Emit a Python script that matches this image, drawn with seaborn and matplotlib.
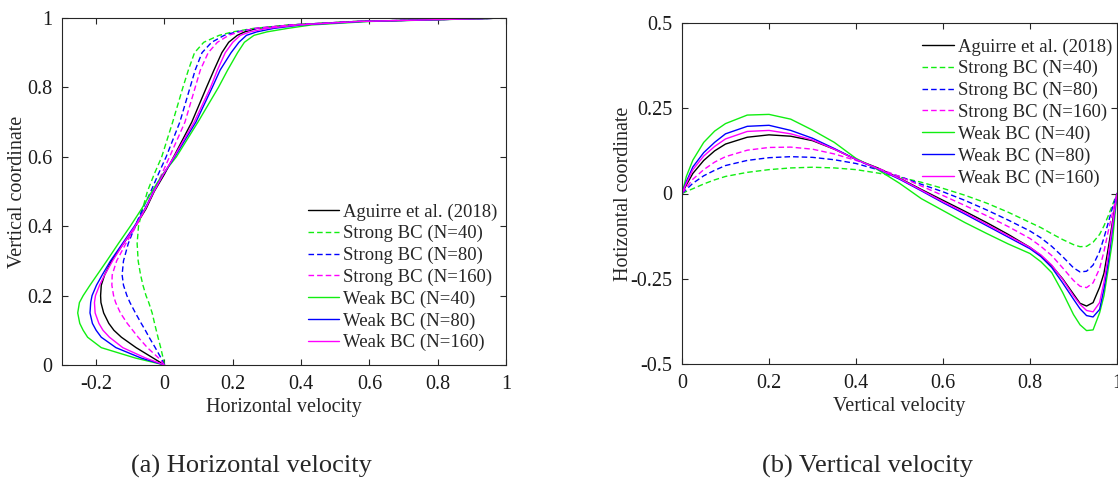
import numpy as np
import pandas as pd
import matplotlib
matplotlib.use("Agg")
import matplotlib.pyplot as plt
import seaborn as sns

# ---------------- data: panel (a) -----------------
# vertical coordinate (shared sample positions)
v_coord = [0, 0.02, 0.05, 0.08, 0.1, 0.12, 0.15, 0.18, 0.2, 0.23, 0.26, 0.3, 0.35,
           0.4, 0.45, 0.5, 0.55, 0.6, 0.7, 0.8, 0.85, 0.9, 0.93, 0.95, 0.96, 0.97,
           0.98, 0.99, 1.0]
u_aguirre = [0, -0.033, -0.083, -0.126, -0.148, -0.163, -0.178, -0.186, -0.187, -0.185,
             -0.175, -0.155, -0.12, -0.085, -0.054, -0.03, 0.0, 0.027, 0.08, 0.123,
             0.145, 0.168, 0.188, 0.213, 0.235, 0.27, 0.37, 0.56, 1.0]
u_strong40 = [0, -0.004, -0.011, -0.019, -0.024, -0.029, -0.036, -0.046, -0.054, -0.063,
              -0.07, -0.077, -0.08, -0.076, -0.064, -0.05, -0.03, -0.008, 0.024, 0.054,
              0.07, 0.088, 0.115, 0.16, 0.2, 0.26, 0.37, 0.56, 1.0]
u_strong80 = [0, -0.01, -0.027, -0.045, -0.056, -0.068, -0.085, -0.101, -0.11, -0.12,
              -0.124, -0.12, -0.106, -0.086, -0.064, -0.04, -0.018, 0.005, 0.045, 0.075,
              0.09, 0.11, 0.138, 0.175, 0.21, 0.27, 0.37, 0.56, 1.0]
u_strong160 = [0, -0.017, -0.05, -0.077, -0.093, -0.109, -0.129, -0.143, -0.149, -0.154,
               -0.153, -0.14, -0.113, -0.083, -0.057, -0.033, -0.008, 0.015, 0.06, 0.09,
               0.105, 0.128, 0.155, 0.188, 0.22, 0.265, 0.37, 0.56, 1.0]
u_weak40 = [0, -0.085, -0.185, -0.225, -0.238, -0.248, -0.254, -0.249, -0.238, -0.218,
            -0.197, -0.169, -0.135, -0.1, -0.067, -0.037, -0.005, 0.035, 0.098, 0.158,
            0.185, 0.214, 0.234, 0.262, 0.3, 0.36, 0.43, 0.6, 1.0]
u_weak80 = [0, -0.068, -0.142, -0.185, -0.2, -0.211, -0.218, -0.216, -0.212, -0.199,
            -0.182, -0.158, -0.123, -0.088, -0.057, -0.032, -0.003, 0.03, 0.092, 0.14,
            0.163, 0.195, 0.218, 0.24, 0.27, 0.32, 0.4, 0.58, 1.0]
u_weak160 = [0, -0.055, -0.122, -0.161, -0.18, -0.192, -0.203, -0.205, -0.202, -0.19,
             -0.175, -0.152, -0.12, -0.086, -0.056, -0.031, -0.003, 0.028, 0.087, 0.135,
             0.155, 0.178, 0.2, 0.222, 0.25, 0.3, 0.39, 0.57, 1.0]

# ---------------- data: panel (b) -----------------
x_coord = [0, 0.01, 0.025, 0.05, 0.075, 0.1, 0.15, 0.2, 0.25, 0.3, 0.35, 0.4, 0.45, 0.5,
           0.55, 0.6, 0.65, 0.7, 0.75, 0.8, 0.825, 0.85, 0.875, 0.9, 0.915, 0.93, 0.945,
           0.96, 0.97, 0.98, 0.99, 1.0]
w_aguirre = [0, 0.025, 0.059, 0.097, 0.125, 0.145, 0.165, 0.172, 0.168, 0.155, 0.13, 0.1,
             0.075, 0.045, 0.012, -0.02, -0.052, -0.085, -0.12, -0.158, -0.182, -0.212,
             -0.25, -0.295, -0.322, -0.33, -0.32, -0.275, -0.234, -0.16, -0.08, 0.0]
w_strong40 = [0, 0.006, 0.014, 0.028, 0.04, 0.05, 0.062, 0.07, 0.075, 0.077, 0.075, 0.07,
              0.06, 0.048, 0.033, 0.015, -0.005, -0.028, -0.055, -0.085, -0.1, -0.118,
              -0.135, -0.15, -0.156, -0.155, -0.143, -0.12, -0.095, -0.065, -0.032, 0.0]
w_strong80 = [0, 0.012, 0.03, 0.052, 0.068, 0.082, 0.097, 0.105, 0.108, 0.106, 0.099, 0.088,
              0.07, 0.05, 0.027, 0.005, -0.02, -0.048, -0.078, -0.11, -0.13, -0.155,
              -0.185, -0.218, -0.23, -0.228, -0.21, -0.17, -0.13, -0.085, -0.04, 0.0]
w_strong160 = [0, 0.017, 0.042, 0.07, 0.092, 0.108, 0.127, 0.135, 0.136, 0.13, 0.116, 0.097,
               0.074, 0.05, 0.022, -0.006, -0.035, -0.065, -0.097, -0.132, -0.155, -0.182,
               -0.218, -0.255, -0.272, -0.276, -0.262, -0.22, -0.17, -0.11, -0.055, 0.0]
w_weak40 = [0, 0.05, 0.098, 0.15, 0.183, 0.205, 0.23, 0.232, 0.218, 0.186, 0.15, 0.103,
            0.07, 0.03, -0.015, -0.05, -0.085, -0.117, -0.148, -0.176, -0.2, -0.232, -0.29,
            -0.355, -0.385, -0.402, -0.4, -0.35, -0.3, -0.22, -0.135, 0.0]
w_weak80 = [0, 0.035, 0.078, 0.12, 0.15, 0.175, 0.197, 0.2, 0.185, 0.162, 0.132, 0.1, 0.072,
            0.042, 0.008, -0.027, -0.06, -0.094, -0.128, -0.162, -0.185, -0.217, -0.262,
            -0.31, -0.338, -0.358, -0.362, -0.34, -0.28, -0.2, -0.1, 0.0]
w_weak160 = [0, 0.03, 0.07, 0.11, 0.138, 0.16, 0.182, 0.185, 0.175, 0.157, 0.13, 0.1, 0.073,
             0.044, 0.01, -0.024, -0.056, -0.09, -0.124, -0.158, -0.18, -0.21, -0.252, -0.3,
             -0.325, -0.343, -0.347, -0.32, -0.26, -0.18, -0.09, 0.0]

series_names = ["Aguirre et al. (2018)", "Strong BC (N=40)", "Strong BC (N=80)",
                "Strong BC (N=160)", "Weak BC (N=40)", "Weak BC (N=80)", "Weak BC (N=160)"]
series_colors = ["#000000", "#11ee11", "#0000ff", "#ff00ff", "#11ee11", "#0000ff", "#ff00ff"]
series_dashed = [False, True, True, True, False, False, False]

xticks_a = [-0.2, 0, 0.2, 0.4, 0.6, 0.8, 1]
xticklabels_a = ["-0.2", "0", "0.2", "0.4", "0.6", "0.8", "1"]
yticks_a = [0, 0.2, 0.4, 0.6, 0.8, 1]
yticklabels_a = ["0", "0.2", "0.4", "0.6", "0.8", "1"]
xticks_b = [0, 0.2, 0.4, 0.6, 0.8, 1]
xticklabels_b = ["0", "0.2", "0.4", "0.6", "0.8", "1"]
yticks_b = [-0.5, -0.25, 0, 0.25, 0.5]
yticklabels_b = ["-0.5", "-0.25", "0", "0.25", "0.5"]

# ---------------- build frames -----------------
a_vals = [u_aguirre, u_strong40, u_strong80, u_strong160, u_weak40, u_weak80, u_weak160]
b_vals = [w_aguirre, w_strong40, w_strong80, w_strong160, w_weak40, w_weak80, w_weak160]
df_a = pd.concat([pd.DataFrame({"u": vals, "v": v_coord, "series": name})
                  for name, vals in zip(series_names, a_vals)], ignore_index=True)
df_b = pd.concat([pd.DataFrame({"x": x_coord, "w": vals, "series": name})
                  for name, vals in zip(series_names, b_vals)], ignore_index=True)

palette = dict(zip(series_names, series_colors))
dashes = {n: ((4, 2.2) if d else "") for n, d in zip(series_names, series_dashed)}

sns.set_theme(style="white")
plt.rcParams["font.family"] = ["Liberation Serif", "DejaVu Serif"]

FS_TICK = 14.5
FS_LABEL = 14.5
FS_LEG = 13.5
fig = plt.figure(figsize=(11.18, 4.84), dpi=100)
ax1 = fig.add_axes([62 / 1118, (484 - 365) / 484, 444 / 1118, 347 / 484])
ax2 = fig.add_axes([682 / 1118, (484 - 364) / 484, 435 / 1118, 341 / 484])

sns.lineplot(data=df_a, x="u", y="v", hue="series", style="series",
             hue_order=series_names, style_order=series_names,
             palette=palette, dashes=dashes, estimator=None, sort=False,
             orient="y", linewidth=1.0, ax=ax1, legend="full")
sns.lineplot(data=df_b, x="x", y="w", hue="series", style="series",
             hue_order=series_names, style_order=series_names,
             palette=palette, dashes=dashes, estimator=None,
             linewidth=1.0, ax=ax2, legend="full")

spine_col = "#262626"


def style_axes(ax, xlim, ylim, xt, xtl, yt, ytl, xlabel, ylabel, ylab_x):
    ax.set_xlim(*xlim)
    ax.set_ylim(*ylim)
    ax.set_xticks(xt)
    ax.set_xticklabels(xtl)
    ax.set_yticks(yt)
    ax.set_yticklabels(ytl)
    ax.set_xlabel(xlabel, fontsize=FS_LABEL, labelpad=3)
    ax.set_ylabel(ylabel, fontsize=FS_LABEL)
    ax.yaxis.set_label_coords(ylab_x, 0.5)
    ax.tick_params(direction="in", length=4, width=0.8, top=True, right=True,
                   bottom=True, left=True, labelsize=FS_TICK, colors=spine_col,
                   labelcolor="#1a1a1a")
    ax.tick_params(axis="x", pad=7)
    ax.tick_params(axis="y", pad=7)
    for sp in ax.spines.values():
        sp.set_visible(True)
        sp.set_color(spine_col)
        sp.set_linewidth(0.8)


style_axes(ax1, (-0.3, 1), (0, 1), xticks_a, xticklabels_a, yticks_a, yticklabels_a,
           "Horizontal velocity", "Vertical coordinate", -0.078)
style_axes(ax2, (0, 1), (-0.5, 0.5), xticks_b, xticklabels_b, yticks_b, yticklabels_b,
           "Vertical velocity", "Hotizontal coordinate", -0.112)

for ax, anchor in ((ax1, (0.553, 0.466)), (ax2, (0.552, 0.955))):
    handles, labels = ax.get_legend_handles_labels()
    pairs = [(h, l) for h, l in zip(handles, labels) if l in series_names]
    leg = ax.legend([p[0] for p in pairs], [p[1] for p in pairs], loc="upper left",
                    bbox_to_anchor=anchor, frameon=False, fontsize=FS_LEG,
                    borderpad=0, borderaxespad=0, handlelength=1.7,
                    handletextpad=0.2, labelspacing=0.24)
    for line in leg.get_lines():
        line.set_linewidth(1.0)

fig.text(251 / 1118, 1 - 466 / 484, "(a) Horizontal velocity", ha="center", va="center",
         fontsize=19)
fig.text(868 / 1118, 1 - 466 / 484, "(b) Vertical velocity", ha="center", va="center",
         fontsize=19)

fig.savefig("out.png", dpi=100, facecolor="white")
